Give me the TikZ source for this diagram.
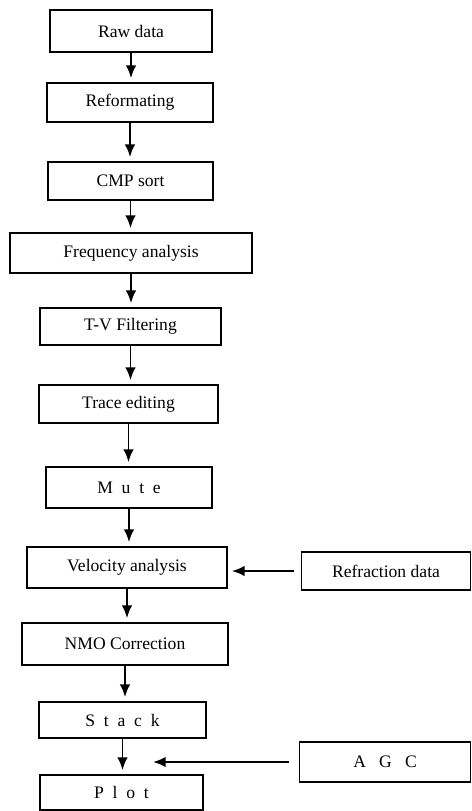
\documentclass[tikz,border=0pt]{standalone}
\usepackage{fontspec}
\setmainfont{Liberation Serif}
\usetikzlibrary{arrows.meta}
\begin{document}
\begin{tikzpicture}[x=0.025cm, y=-0.025cm,
  box/.style={draw, rectangle, line width=1pt, inner sep=0pt, font=\fontsize{12.5}{14}\selectfont},
  flow/.style={line width=1.4pt, -{Latex[length=9pt,width=7.5pt]}, shorten >=3pt}]
\useasboundingbox (0,0) rectangle (472,811);
\node[box, minimum width=162*0.025cm, minimum height=42*0.025cm] (1) at (131,31) {Raw data};
\node[box, minimum width=166*0.025cm, minimum height=39*0.025cm] (2) at (130,102.5) {Reformating};
\node[box, minimum width=165*0.025cm, minimum height=38*0.025cm] (3) at (130.5,181) {CMP sort};
\node[box, minimum width=242*0.025cm, minimum height=40*0.025cm] (4) at (131,253) {Frequency analysis};
\node[box, minimum width=181*0.025cm, minimum height=37*0.025cm] (5) at (130.5,326.5) {T-V Filtering};
\node[box, minimum width=179*0.025cm, minimum height=38*0.025cm] (6) at (128.5,404) {Trace editing};
\node[box, minimum width=166*0.025cm, minimum height=41*0.025cm] (7) at (129,487.5) {M~~u~~t~~e};
\node[box, minimum width=200*0.025cm, minimum height=41*0.025cm] (8) at (127,567.5) {Velocity analysis};
\node[box, minimum width=206*0.025cm, minimum height=42*0.025cm] (9) at (125,644) {NMO Correction};
\node[box, minimum width=167*0.025cm, minimum height=36*0.025cm] (10) at (122.5,720) {S~~t~~a~~c~~k};
\node[box, minimum width=163*0.025cm, minimum height=35*0.025cm] (11) at (121.5,792.5) {P~~l~~o~~t};
\node[box, minimum width=169*0.025cm, minimum height=38*0.025cm] (12) at (386,571) {Refraction data\hspace{12pt}};
\node[box, minimum width=171*0.025cm, minimum height=40*0.025cm] (13) at (385,762) {A~~~G~~~C\hspace{8pt}};
\coordinate (a) at (153,762);
% main flow
\path[draw,flow] (1.south) -- (1.south |- 2.north);
\path[draw,flow] (2.south) -- (2.south |- 3.north);
\path[draw,flow] (3.south) -- (3.south |- 4.north);
\path[draw,flow] (4.south) -- (4.south |- 5.north);
\path[draw,flow] (5.south) -- (5.south |- 6.north);
\path[draw,flow] (6.south) -- (6.south |- 7.north);
\path[draw,flow] (7.south) -- (7.south |- 8.north);
\path[draw,flow] (8.south) -- (8.south |- 9.north);
\path[draw,flow] (9.south) -- (9.south |- 10.north);
\path[draw,flow] (10.south) -- (10.south |- 11.north);
% side inputs
\path[draw,flow,shorten <=5pt] (12.west) -- (8.east |- 12.west);
\path[draw,flow,shorten <=7pt,shorten >=0pt] (13.west) -- (a);
\end{tikzpicture}
\end{document}
